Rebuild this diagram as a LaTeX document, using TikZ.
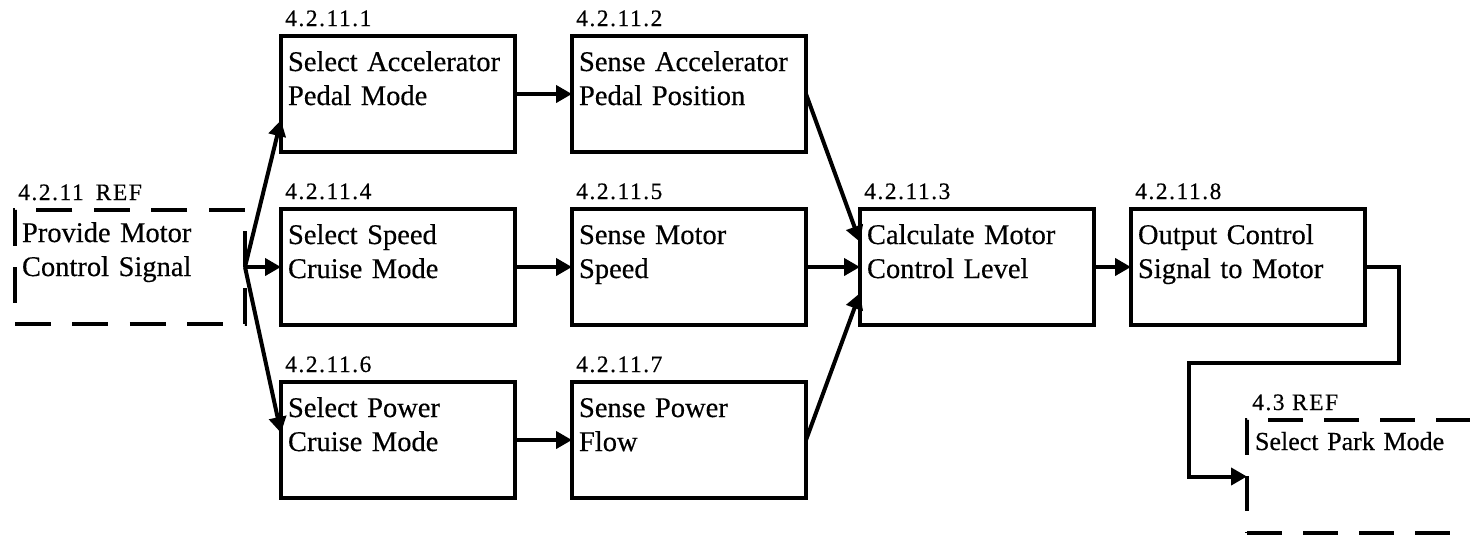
\documentclass[tikz,border=0pt]{standalone}
\usepackage{fontspec}
\setmainfont{Liberation Serif}[FakeBold=0.4]
\newfontfamily\labfam{Liberation Serif}[LetterSpace=6.5,FakeBold=0.4]
\usetikzlibrary{arrows.meta,calc}
\newcommand\boxfont{\fontsize{28.5}{34}\selectfont}
\newcommand\parkfont{\fontsize{26}{30}\selectfont}
\newcommand\labfont{\labfam\fontsize{23.5}{28}\selectfont}
\begin{document}
\begin{tikzpicture}[x=1pt,y=-1pt,
  proc/.style={draw, line width=4pt, anchor=north west, outer sep=0pt,
    minimum width=234pt, minimum height=116pt, inner xsep=0pt, inner ysep=0pt,
    text width=220pt, align=left, text height=35pt, text depth=81pt, font=\boxfont},
  refbox/.style={draw, line width=4pt, dash pattern=on 36pt off 21.4pt, anchor=north west, outer sep=0pt,
    minimum width=230pt, minimum height=114pt, inner xsep=0pt, inner ysep=0pt,
    text width=216pt, align=left, text height=32pt, text depth=82pt, font=\boxfont},
  parkbox/.style={draw, line width=4pt, dash pattern=on 35pt off 21pt, anchor=north west, outer sep=0pt,
    minimum width=279.5pt, minimum height=113pt, inner xsep=0pt, inner ysep=0pt,
    text width=263.5pt, align=left, text height=30pt, text depth=83pt, font=\parkfont},
  lab/.style={anchor=base west, inner sep=0pt, font=\labfont},
  conn/.style={line width=4pt, -{Triangle[length=16pt,width=17pt]}},
]
\useasboundingbox (0,0) rectangle (1470,539);
\fill[white] (0,0) rectangle (1470,539);
\clip (0,0) rectangle (1470,539);

\node[refbox] (ref) at (15,210) {Provide Motor\\Control Signal};
\node[proc] (b1) at (281,36) {Select Accelerator\\Pedal Mode};
\node[proc] (b2) at (572,36) {Sense Accelerator\\Pedal Position};
\node[proc] (b4) at (281,209) {Select Speed\\Cruise Mode};
\node[proc] (b5) at (572,209) {Sense Motor\\Speed};
\node[proc] (b6) at (281,382) {Select Power\\Cruise Mode};
\node[proc] (b7) at (572,382) {Sense Power\\Flow};
\node[proc] (b3) at (860,209) {Calculate Motor\\Control Level};
\node[proc] (b8) at (1131,209) {Output Control\\Signal to Motor};
\node[parkbox] (park) at (1247,420) {Select Park Mode};

\node[lab] (lref) at ($(ref.north west)+(3,-10)$) {4.2.11\hspace{12pt}REF};
\node[lab] (l1) at ($(b1.north west)+(4,-10)$) {4.2.11.1};
\node[lab] (l2) at ($(b2.north west)+(4,-10)$) {4.2.11.2};
\node[lab] (l4) at ($(b4.north west)+(4,-10)$) {4.2.11.4};
\node[lab] (l5) at ($(b5.north west)+(4,-10)$) {4.2.11.5};
\node[lab] (l6) at ($(b6.north west)+(4,-10)$) {4.2.11.6};
\node[lab] (l7) at ($(b7.north west)+(4,-10)$) {4.2.11.7};
\node[lab] (l3) at ($(b3.north west)+(4,-10)$) {4.2.11.3};
\node[lab] (l8) at ($(b8.north west)+(4,-10)$) {4.2.11.8};
\node[lab] (lpark) at ($(park.north west)+(5,-10)$) {4.3 REF};

\draw[conn] (ref.east) -- ($(b1.west)+(0,26)$);
\draw[conn] (ref.east) -- (b4.west);
\draw[conn] (ref.east) -- ($(b6.west)+(0,-7)$);
\draw[conn] (b1.east) -- (b2.west);
\draw[conn] (b4.east) -- (b5.west);
\draw[conn] (b6.east) -- (b7.west);
\draw[conn] (b2.east) -- ($(b3.west)+(0,-25)$);
\draw[conn] (b5.east) -- (b3.west);
\draw[conn] (b7.east) -- ($(b3.west)+(0,26)$);
\draw[conn] (b3.east) -- (b8.west);
\coordinate (c1) at (1399,363);
\coordinate (c2) at (1189,363);
\draw[conn] (b8.east) -| (c1) -- (c2) |- (park.west);
\end{tikzpicture}
\end{document}
